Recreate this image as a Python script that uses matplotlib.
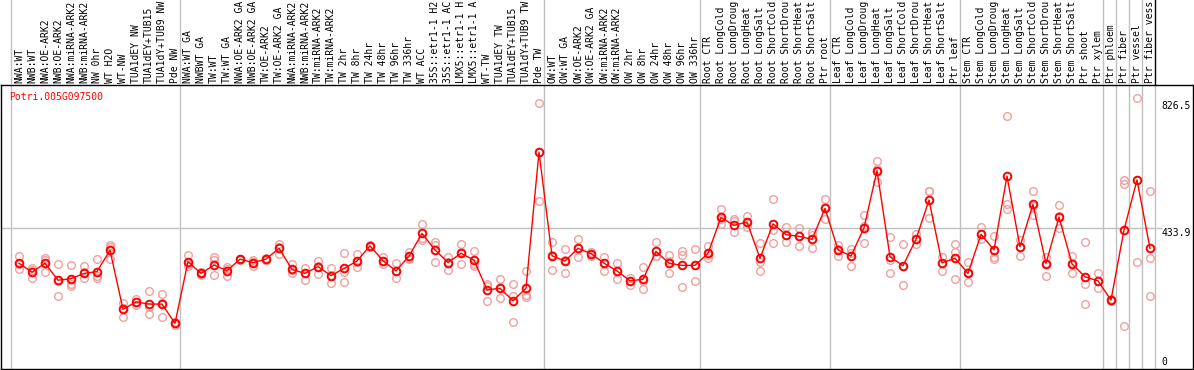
import matplotlib
matplotlib.use('Agg')
import matplotlib.pyplot as plt
import numpy as np

# sample labels, in plot order (as far as they show in the header)
labels = [
    'NWA:WT', 'NWB:WT', 'NWA:OE-ARK2', 'NWB:OE-ARK2', 'NWA:miRNA-ARK2', 'NWB:miRNA-ARK2',
    'NW 0hr', 'WT H2O', 'WT-NW', 'TUA1dEY NW', 'TUA1dEY+TUB15', 'TUA1dY+TUB9 NW', 'Pde NW',
    'NWA:WT GA', 'NWBWT GA', 'TW:WT', 'TW:WT GA', 'NWA:OE-ARK2 GA', 'NWB:OE-ARK2 GA',
    'TW:OE-ARK2', 'TW:OE-ARK2 GA', 'NWA:miRNA-ARK2', 'NWB:miRNA-ARK2', 'TW:miRNA-ARK2',
    'TW:miRNA-ARK2', 'TW 2hr', 'TW 8hr', 'TW 24hr', 'TW 48hr', 'TW 96hr', 'TW 336hr', 'WT ACC',
    '35S::etr1-1 H2', '35S::etr1-1 AC', 'LMX5::etr1-1 H', 'LMX5::etr1-1 A', 'WT-TW',
    'TUA1dEY TW', 'TUA1dEY+TUB15', 'TUA1dY+TUB9 TW', 'Pde TW',
    'OW:WT', 'OW:WT GA', 'OW:OE-ARK2', 'OW:OE-ARK2 GA', 'OW:miRNA-ARK2', 'OW:miRNA-ARK2',
    'OW 2hr', 'OW 8hr', 'OW 24hr', 'OW 48hr', 'OW 96hr', 'OW 336hr',
    'Root CTR', 'Root LongCold', 'Root LongDroug', 'Root LongHeat', 'Root LongSalt',
    'Root ShortCold', 'Root ShortDrou', 'Root ShortHeat', 'Root ShortSalt', 'Ptr root',
    'Leaf CTR', 'Leaf LongCold', 'Leaf LongDroug', 'Leaf LongHeat', 'Leaf LongSalt',
    'Leaf ShortCold', 'Leaf ShortDrou', 'Leaf ShortHeat', 'Leaf ShortSalt', 'Ptr leaf',
    'Stem CTR', 'Stem LongCold', 'Stem LongDroug', 'Stem LongHeat', 'Stem LongSalt',
    'Stem ShortCold', 'Stem ShortDrou', 'Stem ShortHeat', 'Stem ShortSalt', 'Ptr shoot',
    'Ptr xylem', 'Ptr phloem', 'Ptr fiber', 'Ptr vessel', 'Ptr fiber vess',
]

# last sample index of each group (separator lines)
group_ends = [-1, 12, 40, 52, 62, 72, 83, 84, 85, 86, 87]

means = [
    319, 290, 319, 264, 269, 286, 292, 361, 170, 194, 187, 187, 125,
    324, 286, 313, 295, 332, 321, 332, 367, 299, 286, 308, 279, 302, 326, 375, 327,
    294, 342, 415, 362, 321, 351, 329, 233, 238, 198, 238, 678,
    343, 326, 367, 350, 319, 294, 262, 267, 357, 319, 312, 312,
    351, 467, 441, 452, 335, 446, 411, 406, 396, 496,
    362, 342, 433, 618, 340, 311, 396, 523, 320, 335,
    286, 412, 362, 600, 372, 509, 318, 468, 317, 275, 262,
    200, 426, 588, 367,
]

rep1 = [
    342, 302, 337, 315, 312, 309, 331, 379, 189, 205, 229, 220, 130,
    347, 292, 340, 306, 334, 330, 337, 381, 315, 305, 327, 302, 351, 348, 378, 338,
    319, 356, 445, 388, 340, 381, 357, 251, 268, 251, 294, 835,
    386, 364, 397, 356, 338, 319, 270, 306, 386, 344, 358, 365,
    375, 493, 461, 471, 383, 525, 435, 434, 421, 525,
    377, 364, 475, 649, 403, 381, 412, 552, 340, 381,
    324, 437, 408, 794, 394, 552, 340, 506, 342, 386, 288,
    205, 588, 851, 552,
]
rep2 = [
    316, 270, 330, 212, 252, 289, 278, 371, 146, 194, 176, 189, 125,
    316, 284, 330, 278, 331, 322, 330, 372, 297, 288, 310, 280, 292, 324, 375, 327,
    294, 337, 399, 378, 323, 355, 315, 247, 240, 213, 216, 679,
    345, 328, 367, 350, 320, 295, 262, 262, 343, 325, 345, 312,
    345, 463, 454, 452, 324, 426, 411, 408, 410, 500,
    365, 353, 440, 622, 329, 310, 396, 553, 320, 354,
    290, 412, 340, 510, 370, 505, 320, 470, 320, 251, 262,
    200, 575, 589, 335,
]
rep3 = [
    299, 297, 292, 263, 245, 272, 270, 331, 174, 184, 154, 144, 120,
    310, 282, 281, 300, 329, 310, 328, 350, 286, 265, 283, 254, 258, 308, 371, 317,
    270, 334, 394, 322, 297, 315, 310, 197, 206, 129, 211, 520,
    296, 286, 338, 343, 295, 268, 249, 235, 342, 286, 242, 262,
    335, 446, 421, 437, 295, 383, 389, 376, 367, 461,
    342, 310, 383, 582, 286, 248, 380, 464, 295, 267,
    259, 396, 333, 493, 342, 475, 278, 434, 286, 187, 238,
    196, 116, 323, 213,
]

gene = 'Potri.005G097500'
ticks = [826.5, 433.9, 0]
tick_va = ['center', 'top', 'center']

W, H = 1194, 370
fig = plt.figure(figsize=(W / 100, H / 100), dpi=100)
mono = 'DejaVu Sans Mono'
fs = 7.0

# pixel layout: sample i sits at x = 19 + 13 * i
xlo, xhi = (1 - 19) / 13, (1193 - 19) / 13
idx = np.arange(len(labels))

ax = fig.add_axes([1 / W, (H - 369) / H, 1192 / W, (369 - 85) / H])
ax.set_xlim(xlo, xhi)
ax.set_ylim(-22.6, 894.4)
ax.set_xticks([])
ax.set_yticks([])
for s in ax.spines.values():
    s.set_color('black')
    s.set_linewidth(1)

hdr = fig.add_axes([1 / W, (H - 85) / H, 1192 / W, 85 / H])
hdr.set_xlim(xlo, xhi)
hdr.set_ylim(0, 1)
hdr.axis('off')

for k, g in enumerate(group_ends):
    ax.axvline(g + 0.42, color='#c0c0c0', lw=1, zorder=0)
    hdr.axvline(g + 0.42, color='black' if k == len(group_ends) - 1 else '#c0c0c0', lw=1)

ax.hlines(ticks[1], xlo, 87.9, color='#c0c0c0', lw=1, zorder=0)

for i, lab in enumerate(labels):
    hdr.text(i, 0.025, lab, rotation=90, ha='center', va='bottom',
             family=mono, fontsize=fs, color='black')

for t, va in zip(ticks, tick_va):
    ax.text(87.85, t, f'{t:g}', ha='left', va=va, family=mono, fontsize=fs)

for rep in (rep1, rep2, rep3):
    ax.plot(idx, rep, 'o', mfc='none', mec='#f0a0a0', ms=5.5, mew=1.0, zorder=2)

ax.plot(idx, means, '-', color='red', lw=1, marker='o', mfc='none', mec='red',
        ms=5.5, mew=1.4, zorder=3)

ax.text(0.0067, 0.958, gene, transform=ax.transAxes, ha='left', va='center',
        family=mono, fontsize=fs, color='red')

fig.savefig('out.png', dpi=100)
